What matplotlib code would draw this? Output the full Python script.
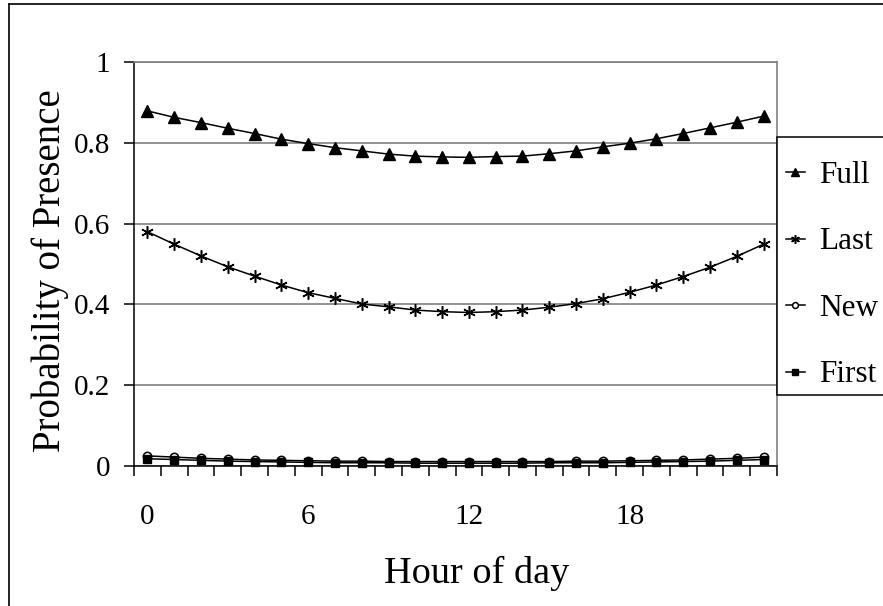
import matplotlib
matplotlib.use("Agg")
import matplotlib.pyplot as plt
from matplotlib.lines import Line2D
from matplotlib.patches import Rectangle

FONT_NAME = "Liberation Serif"

hours = list(range(24))
hour_labels = ["0", "6", "12", "18"]

full = [0.879, 0.863, 0.850, 0.836, 0.823, 0.809, 0.798, 0.788, 0.780, 0.772, 0.767, 0.765,
        0.764, 0.766, 0.767, 0.773, 0.780, 0.790, 0.799, 0.810, 0.823, 0.837, 0.851, 0.866]
last = [0.580, 0.549, 0.520, 0.493, 0.470, 0.448, 0.429, 0.415, 0.401, 0.394, 0.386, 0.382,
        0.380, 0.382, 0.386, 0.393, 0.402, 0.414, 0.430, 0.448, 0.469, 0.492, 0.519, 0.549]
new = [0.025, 0.022, 0.019, 0.017, 0.015, 0.014, 0.013, 0.012, 0.012, 0.011, 0.011, 0.011,
       0.011, 0.011, 0.011, 0.011, 0.012, 0.012, 0.013, 0.014, 0.015, 0.017, 0.019, 0.022]
first = [0.018, 0.016, 0.014, 0.012, 0.011, 0.010, 0.009, 0.008, 0.008, 0.008, 0.007, 0.007,
         0.007, 0.007, 0.007, 0.008, 0.008, 0.008, 0.009, 0.010, 0.011, 0.012, 0.014, 0.016]

plt.rcParams["font.family"] = FONT_NAME

W, H = 883, 606
fig = plt.figure(figsize=(W / 100, H / 100), dpi=100)
ax = fig.add_axes([134 / W, 1 - 466 / H, (777 - 134) / W, (466 - 62) / H])

# outer chart frame (left and top edges visible)
fig.add_artist(Line2D([9 / W, 9 / W], [0, 1 - 4 / H], transform=fig.transFigure, color="black", lw=1.2))
fig.add_artist(Line2D([9 / W, 1], [1 - 4 / H, 1 - 4 / H], transform=fig.transFigure, color="black", lw=1.2))

line_kw = dict(color="black", lw=1.1, clip_on=False)
ax.plot(hours, full, marker="^", markersize=8, label="Full", **line_kw)
ax.plot(hours, last, marker=(6, 2, 0), markersize=9, markeredgewidth=1.1, label="Last", **line_kw)
ax.plot(hours, new, marker="o", markersize=6, markerfacecolor="white", markeredgewidth=1.1, label="New", **line_kw)
ax.plot(hours, first, marker="s", markersize=6, label="First", **line_kw)

ax.set_xlim(-0.5, 23.5)
ax.set_ylim(0, 1)
ax.set_yticks([0, 0.2, 0.4, 0.6, 0.8, 1])
ax.set_yticklabels(["0", "0.2", "0.4", "0.6", "0.8", "1"])
ax.yaxis.grid(True, color="#808080", lw=1.2)
ax.set_axisbelow(True)

# tick marks at category boundaries, labels every 6 hours
ax.set_xticks([h - 0.5 for h in range(25)])
ax.set_xticklabels([])
ax.set_xticks([0, 6, 12, 18], minor=True)
ax.set_xticklabels(hour_labels, minor=True)
ax.tick_params(axis="x", which="major", direction="out", length=7, width=1.1, color="black")
ax.tick_params(axis="x", which="minor", length=0, pad=27, labelsize=21)
ax.tick_params(axis="y", direction="out", length=7, width=1.1, pad=10, labelsize=21)

for side in ["top", "right"]:
    ax.spines[side].set_color("#808080")
    ax.spines[side].set_linewidth(1.2)
ax.spines["left"].set_linewidth(1.1)
ax.spines["bottom"].set_linewidth(1.1)

fig.text(50 / W, 1 - 271 / H, "Probability of Presence", rotation=90,
         ha="center", va="center", fontsize=28)
fig.text(477 / W, 1 - 583 / H, "Hour of day", ha="center", va="baseline", fontsize=27.5)

# legend box drawn separately so it can run off the right edge like the reference
fig.add_artist(Rectangle((777 / W, 1 - 395 / H), 120 / W, (395 - 137) / H,
                         transform=fig.transFigure, facecolor="white",
                         edgecolor="black", lw=1.1, zorder=3))
handles, labels = ax.get_legend_handles_labels()
leg = fig.legend(handles, labels, loc="upper left", bbox_to_anchor=(786 / W, 1 - 161 / H),
                 bbox_transform=fig.transFigure, fontsize=22.5, frameon=False,
                 handlelength=0.6, handletextpad=0.45, labelspacing=1.2,
                 borderaxespad=0, borderpad=0, markerscale=0.7)
leg.set_zorder(5)

fig.savefig("out.png", dpi=100)
